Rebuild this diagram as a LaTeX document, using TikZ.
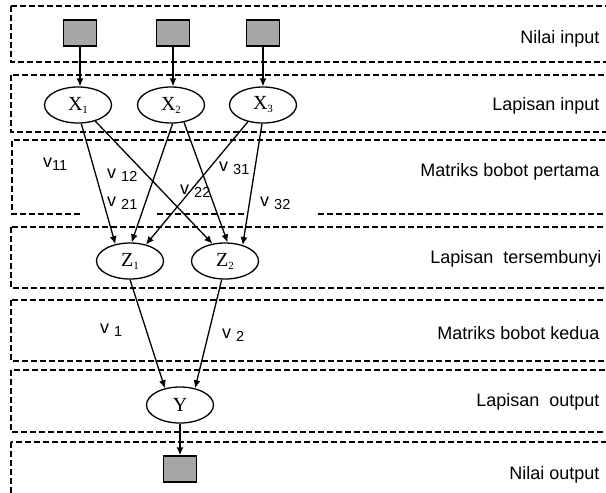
\documentclass[tikz,border=0pt]{standalone}
\usepackage{fontspec}
\setmainfont{Liberation Serif}
\setsansfont{Liberation Sans}
\usetikzlibrary{arrows.meta,shapes.geometric}
\definecolor{boxgray}{gray}{0.65}
\newcommand{\wlab}[2]{\fontsize{18}{18}\selectfont v#1\raisebox{-3pt}{\fontsize{14.5}{14.5}\selectfont #2}}
\newcommand{\unitlab}[2]{#1\raisebox{-3pt}{\fontsize{11}{11}\selectfont #2}}
\begin{document}
\begin{tikzpicture}[
    x=1pt, y=-1pt,
    layer/.style={draw, line width=1.3pt, dash pattern=on 6pt off 3pt},
    valbox/.style={rectangle, draw, line width=1.5pt, fill=boxgray, minimum width=33pt, minimum height=26pt, inner sep=0pt},
    unit/.style={ellipse, draw, line width=1.3pt, fill=white, minimum width=67pt, minimum height=36pt, inner sep=0pt, font=\fontsize{20}{20}\selectfont},
    layerlabel/.style={anchor=east, font=\sffamily\fontsize{18}{18}\selectfont},
    weight/.style={anchor=west, inner sep=0pt, font=\sffamily},
    conn/.style={-{Latex[length=8pt,width=7pt]}, line width=1.3pt}
]
\useasboundingbox (0,0) rectangle (606,493);
\clip (0,0) rectangle (606,493);

% Layer boxes (background)
\draw[layer] (11,6) rectangle (615,62);
\draw[layer] (11,75) rectangle (615,132);
\draw[layer] (80,214) -- (12,214) -- (12,140) -- (615,140);
\draw[layer] (157,214) -- (247,214);
\draw[layer] (318,214) -- (615,214);
\draw[layer] (11,227) rectangle (615,288);
\draw[layer] (11,300) rectangle (615,361);
\draw[layer] (11,370) rectangle (615,432);
\draw[layer] (11,442) rectangle (615,505);

% Layer labels
\node[layerlabel] (lab1) at (603,39) {Nilai input};
\node[layerlabel] (lab2) at (603,106) {Lapisan input};
\node[layerlabel] (lab3) at (603,172) {Matriks bobot pertama};
\node[layerlabel] (lab4) at (605,259) {Lapisan\ \ tersembunyi};
\node[layerlabel] (lab5) at (603,333) {Matriks bobot kedua};
\node[layerlabel] (lab6) at (603,402) {Lapisan\ \ output};
\node[layerlabel] (lab7) at (603,475) {Nilai output};

% Input values
\node[valbox] (in1) at (80,33) {};
\node[valbox] (in2) at (173,33) {};
\node[valbox] (in3) at (263,33) {};

% Input units
\node[unit] (X1) at (78,105) {\unitlab{X}{1}};
\node[unit] (X2) at (171,105) {\unitlab{X}{2}};
\node[unit] (X3) at (263,105) {\unitlab{X}{3}};

% Hidden units
\node[unit] (Z1) at (130,261) {\unitlab{Z}{1}};
\node[unit] (Z2) at (225,261) {\unitlab{Z}{2}};

% Output unit and value
\node[unit] (Y) at (180,405) {Y};
\node[valbox] (out) at (180,469) {};

% Connectors
\draw[conn] (in1.south) -- (in1.south |- X1.north);
\draw[conn] (in2.south) -- (in2.south |- X2.north);
\draw[conn] (in3.south) -- (in3.south |- X3.north);
\draw[conn] (X1.-80) -- (Z1.131);
\draw[conn] (X1.-43) -- (Z2.126);
\draw[conn] (X2.-85) -- (Z1.85);
\draw[conn] (X2.-53) -- (Z2.82);
\draw[conn] (X3.-132) -- (Z1.46);
\draw[conn] (X3.-93) -- (Z2.42);
\draw[conn] (Z1.-90) -- (Y.132);
\draw[conn] (Z2.-100) -- (Y.48);
\draw[conn] (Y.south) -- (out.north);

% Weight labels
\node[weight] (v11) at (43,164) {\wlab{}{11}};
\node[weight] (v12) at (107,175) {\wlab{\ }{12}};
\node[weight] (v21) at (107,203) {\wlab{\ }{21}};
\node[weight] (v22) at (180,191) {\wlab{\ }{22}};
\node[weight] (v31) at (219,168) {\wlab{\ }{31}};
\node[weight] (v32) at (260,203) {\wlab{\ }{32}};
\node[weight] (v1) at (100,330) {\wlab{\ }{1}};
\node[weight] (v2) at (222,335) {\wlab{\ }{2}};

\end{tikzpicture}
\end{document}
